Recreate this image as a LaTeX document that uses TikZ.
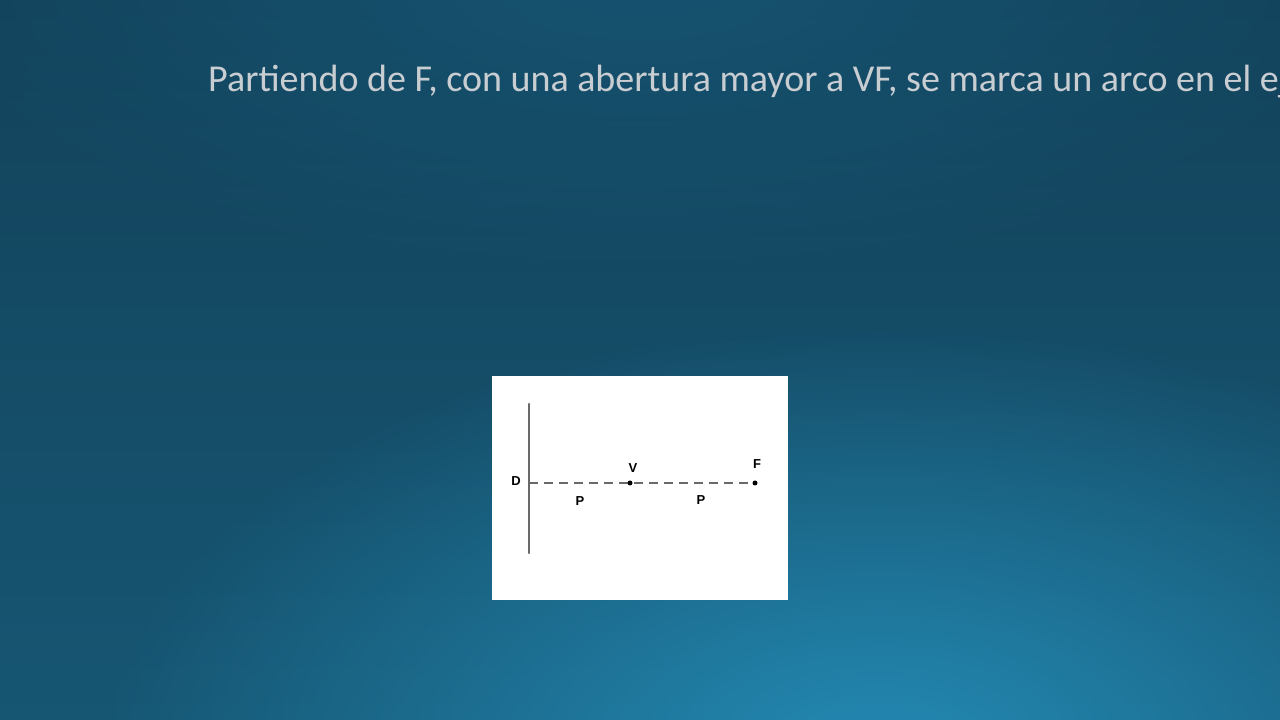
\documentclass[tikz,border=0pt]{standalone}
\usepackage{fontspec}
\setmainfont{Carlito}
\newfontfamily\labelfont{Liberation Sans}
\usetikzlibrary{positioning, fadings}
\definecolor{bgtop}{RGB}{19,66,90}
\definecolor{bgmid}{RGB}{16,57,80}
\definecolor{bgbot}{RGB}{22,86,115}
\definecolor{glow}{RGB}{36,138,180}
\definecolor{topglow}{RGB}{22,84,114}
\definecolor{titlegray}{RGB}{200,205,210}
\definecolor{linegray}{RGB}{105,105,105}

\tikzfading[name=softglow, inner color=transparent!0, outer color=transparent!100]

\tikzset{
  title/.style={anchor=base west, text=titlegray, font=\fontsize{38}{46}\selectfont, inner sep=0pt},
  letter/.style={font=\labelfont\bfseries\fontsize{13}{15}\selectfont, inner sep=0pt},
  punto/.style={circle, fill=black, inner sep=0pt, minimum size=5pt}
}

\begin{document}
\begin{tikzpicture}[x=1pt, y=1pt, line cap=round]
                \useasboundingbox (0,0) rectangle (1280,720);
                \begin{scope}
                \clip (0,0) rectangle (1280,720);
                \shade[top color=bgtop, middle color=bgmid, bottom color=bgbot] (0,0) rectangle (1280,720);
                \fill[topglow, path fading=softglow] (640,760) ellipse [x radius=760, y radius=330];
                \fill[glow, path fading=softglow] (880,-40) ellipse [x radius=780, y radius=440];
                \end{scope}

                % texto
                \node[title] (titulo) at (208,628) {Partiendo de F, con una abertura mayor a VF, se marca un arco en el eje};

                % figura
                \fill[white] (492,120) rectangle (788,344);
                \coordinate (dtop) at (529,316); \coordinate (dbot) at (529,167);
                \coordinate (eje) at (529,237);
                \coordinate (V) at (630,237); \coordinate (F) at (755,237);

                \draw[linegray, line width=2.2pt] (dtop) -- (dbot);
                \draw[linegray, line width=1.6pt, dash pattern=on 9pt off 6pt, line cap=butt] (eje) -- (F);
                \node[punto] (puntoV) at (V) {}; \node[punto] (puntoF) at (F) {};

                \node[letter] (labD) at (516,239) {D};
                \node[letter] (labV) at (633,252) {V};
                \node[letter] (labF) at (757,256) {F};
                \node[letter] (p1) at (580,219) {P};
                \node[letter] (p2) at (701,220) {P};
            \end{tikzpicture}
\end{document}
